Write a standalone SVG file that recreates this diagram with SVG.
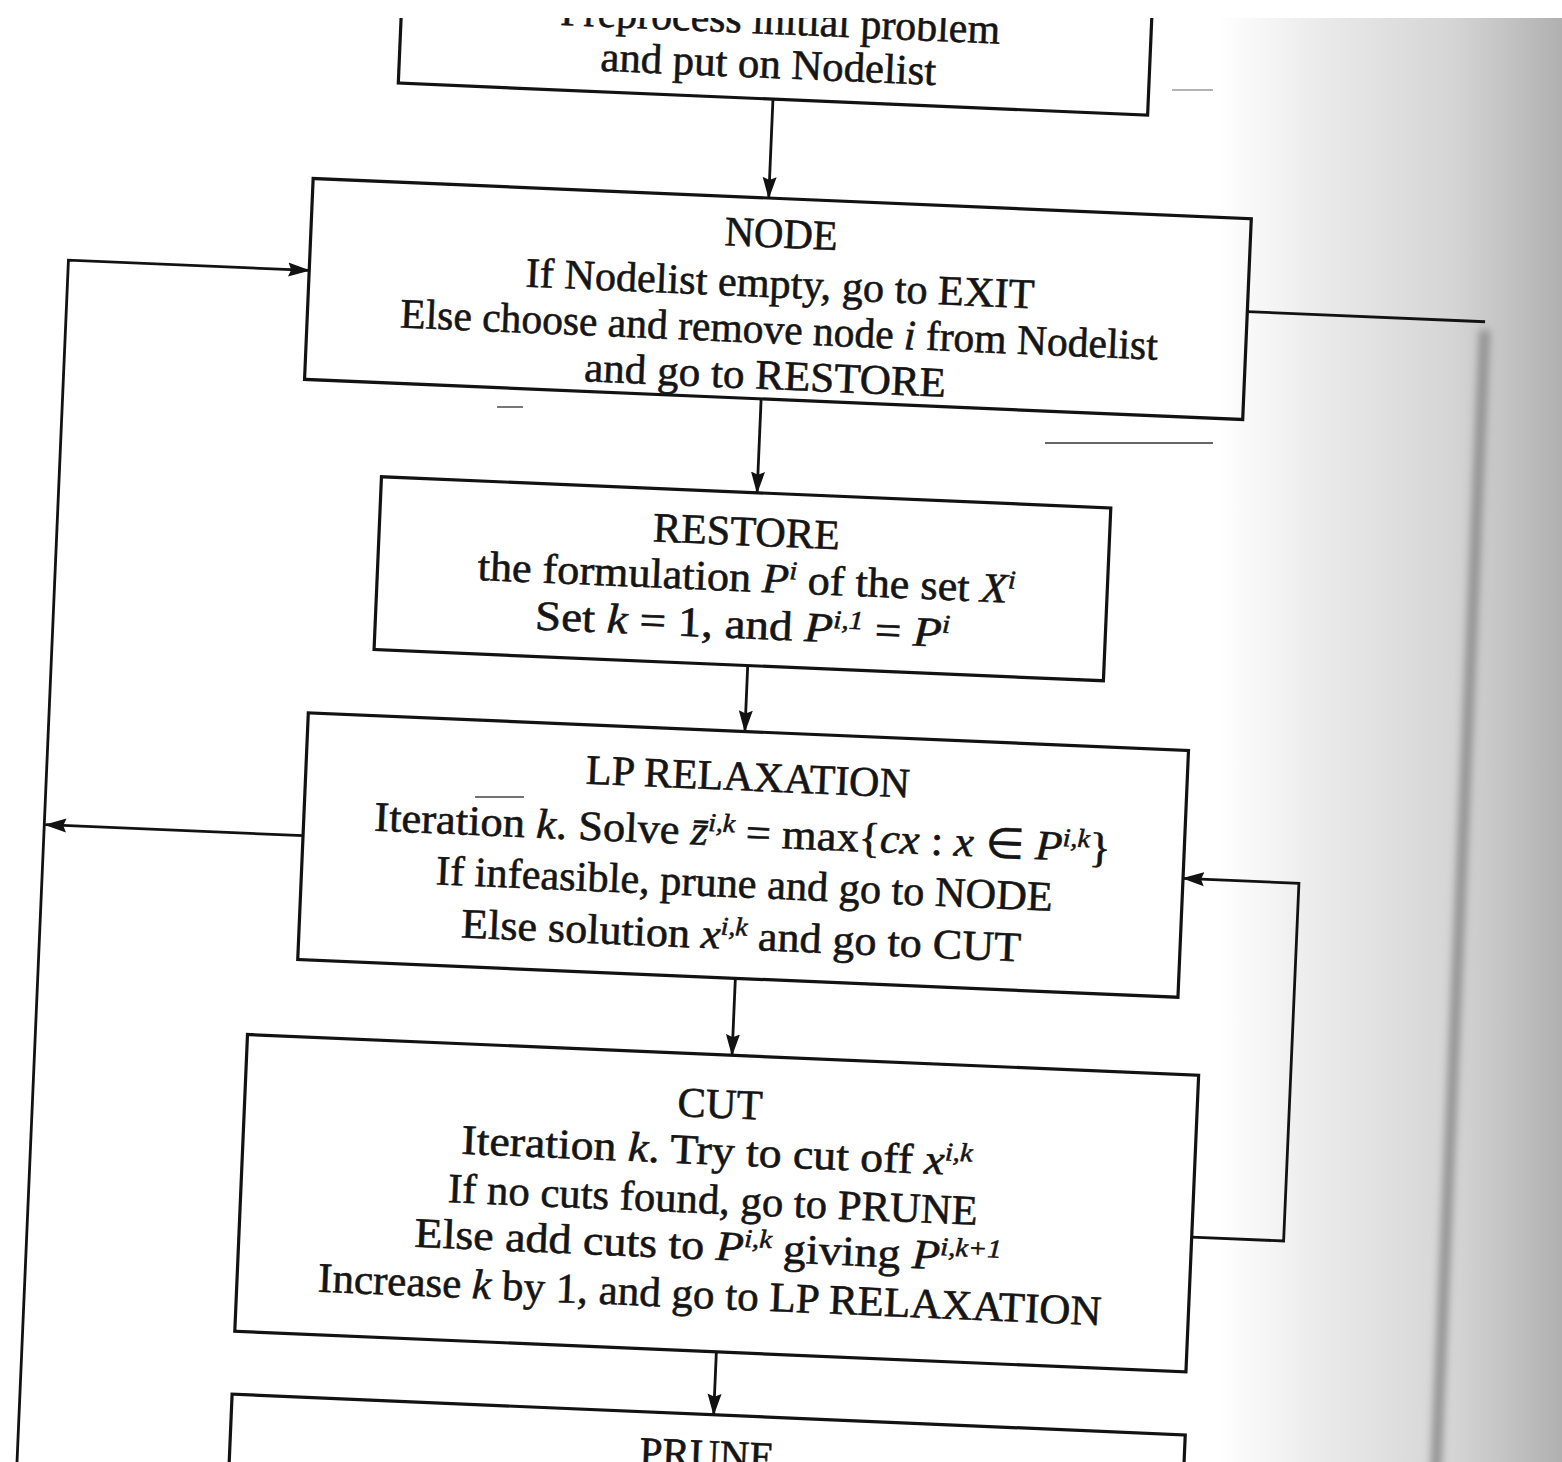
<svg xmlns="http://www.w3.org/2000/svg" width="1562" height="1462" viewBox="0 0 1562 1462">
<style>
.box{fill:none;stroke:#121212;stroke-width:3.2}
.conn{fill:none;stroke:#121212;stroke-width:2.8}
.t{font-family:"Liberation Serif","Times New Roman",serif;font-size:42px;fill:#151515;stroke:#151515;stroke-width:0.6;text-anchor:middle}
.i{font-style:italic}
.sup{font-size:26px;font-style:italic}
</style>
<defs>
<linearGradient id="bg" gradientUnits="userSpaceOnUse" x1="0" y1="0" x2="1562" y2="0">
<stop offset="0" stop-color="#ffffff"/>
<stop offset="0.78" stop-color="#ffffff"/>
<stop offset="0.85" stop-color="#e9e9e9"/>
<stop offset="0.93" stop-color="#d5d5d5"/>
<stop offset="0.965" stop-color="#c3c3c3"/>
<stop offset="1" stop-color="#b0b0b0"/>
</linearGradient>
<marker id="ah" viewBox="0 0 22 16" refX="21" refY="8" markerWidth="22" markerHeight="16" markerUnits="userSpaceOnUse" orient="auto">
<path d="M0,1 L22,8 L0,15 L3,8 Z" fill="#121212"/>
</marker>
<filter id="blur" filterUnits="userSpaceOnUse" x="1400" y="250" width="140" height="1400"><feGaussianBlur stdDeviation="4"/></filter>
<clipPath id="page"><rect x="0" y="18" width="1562" height="1444"/></clipPath>
</defs>
<rect x="0" y="0" width="1562" height="1462" fill="#ffffff"/>
<g clip-path="url(#page)">
<rect x="0" y="18" width="1562" height="1444" fill="url(#bg)"/>
<g id="show-through" stroke-width="1.6">
<line x1="1172" y1="90" x2="1213" y2="90" stroke="#9a9a9a"/>
<line x1="497" y1="407" x2="523" y2="407" stroke="#555"/>
<line x1="1045" y1="443" x2="1213" y2="443" stroke="#333"/>
<line x1="475" y1="797" x2="524" y2="797" stroke="#444"/>
</g>
<g transform="rotate(2.45 780 730)">
<g id="connectors">
<path class="conn" d="M746,100 V199" marker-end="url(#ah)"/>
<path class="conn" d="M747,400 V494" marker-end="url(#ah)"/>
<path class="conn" d="M745,667 V733" marker-end="url(#ah)"/>
<path class="conn" d="M746,980 V1057" marker-end="url(#ah)"/>
<path class="conn" d="M743,1354 V1417" marker-end="url(#ah)"/>
<path class="conn" d="M49,1560 V291 H290" marker-end="url(#ah)"/>
<path class="conn" d="M308,856 H50" marker-end="url(#ah)"/>
<path class="conn" d="M1213,1219 H1305 V861 H1189" marker-end="url(#ah)"/>
<path class="conn" d="M1229,292 H1467"/>
<path d="M1467,300 V1560" fill="none" stroke="#8c8c8c" stroke-width="10" filter="url(#blur)"/>
</g>
<g id="node-preprocess">
<rect class="box" x="371" y="-200" width="750" height="300"/>
<text class="t" x="750" y="35" textLength="440" lengthAdjust="spacingAndGlyphs">Preprocess initial problem</text>
<text class="t" x="740" y="79" textLength="336" lengthAdjust="spacingAndGlyphs">and put on Nodelist</text>
</g>
<g id="node-node">
<rect class="box" x="290" y="199" width="939" height="201"/>
<text class="t" x="760" y="248" textLength="113" lengthAdjust="spacingAndGlyphs">NODE</text>
<text class="t" x="761" y="298" textLength="509" lengthAdjust="spacingAndGlyphs">If Nodelist empty, go to EXIT</text>
<text class="t" x="762" y="344" textLength="758" lengthAdjust="spacingAndGlyphs">Else choose and remove node <tspan class="i">i</tspan> from Nodelist</text>
<text class="t" x="750" y="390" textLength="362" lengthAdjust="spacingAndGlyphs">and go to RESTORE</text>
</g>
<g id="node-restore">
<rect class="box" x="371" y="494" width="730" height="173"/>
<text class="t" x="738" y="547" textLength="187" lengthAdjust="spacingAndGlyphs">RESTORE</text>
<text class="t" x="740" y="593" textLength="538" lengthAdjust="spacingAndGlyphs">the formulation <tspan class="i">P</tspan><tspan class="sup" baseline-shift="super">i</tspan> of the set <tspan class="i">X</tspan><tspan class="sup" baseline-shift="super">i</tspan></text>
<text class="t" x="738" y="640" textLength="415" lengthAdjust="spacingAndGlyphs">Set <tspan class="i">k</tspan> = 1, and <tspan class="i">P</tspan><tspan class="sup" baseline-shift="super">i,1</tspan> = <tspan class="i">P</tspan><tspan class="sup" baseline-shift="super">i</tspan></text>
</g>
<g id="node-lp">
<rect class="box" x="308" y="733" width="881" height="247"/>
<text class="t" x="750" y="792" textLength="324" lengthAdjust="spacingAndGlyphs">LP RELAXATION</text>
<text class="t" x="747" y="848" textLength="737" lengthAdjust="spacingAndGlyphs">Iteration <tspan class="i">k</tspan>. Solve <tspan class="i">z̄</tspan><tspan class="sup" baseline-shift="super">i,k</tspan> = max{<tspan class="i">cx</tspan> : <tspan class="i">x</tspan> ∈ <tspan class="i">P</tspan><tspan class="sup" baseline-shift="super">i,k</tspan>}</text>
<text class="t" x="751" y="899" textLength="617" lengthAdjust="spacingAndGlyphs">If infeasible, prune and go to NODE</text>
<text class="t" x="750" y="951" textLength="560" lengthAdjust="spacingAndGlyphs">Else solution <tspan class="i">x</tspan><tspan class="sup" baseline-shift="super">i,k</tspan> and go to CUT</text>
</g>
<g id="node-cut">
<rect class="box" x="261" y="1057" width="952" height="297"/>
<text class="t" x="736" y="1120" textLength="85" lengthAdjust="spacingAndGlyphs">CUT</text>
<text class="t" x="735" y="1167" textLength="511" lengthAdjust="spacingAndGlyphs">Iteration <tspan class="i">k</tspan>. Try to cut off <tspan class="i">x</tspan><tspan class="sup" baseline-shift="super">i,k</tspan></text>
<text class="t" x="733" y="1216" textLength="530" lengthAdjust="spacingAndGlyphs">If no cuts found, go to PRUNE</text>
<text class="t" x="730" y="1262" textLength="587" lengthAdjust="spacingAndGlyphs">Else add cuts to <tspan class="i">P</tspan><tspan class="sup" baseline-shift="super">i,k</tspan> giving <tspan class="i">P</tspan><tspan class="sup" baseline-shift="super">i,k+1</tspan></text>
<text class="t" x="734" y="1311" textLength="784" lengthAdjust="spacingAndGlyphs">Increase <tspan class="i">k</tspan> by 1, and go to LP RELAXATION</text>
</g>
<g id="node-prune">
<rect class="box" x="261" y="1417" width="954" height="200"/>
<text class="t" x="738" y="1471" textLength="135" lengthAdjust="spacingAndGlyphs">PRUNE</text>
</g>
</g>
</g>
</svg>
